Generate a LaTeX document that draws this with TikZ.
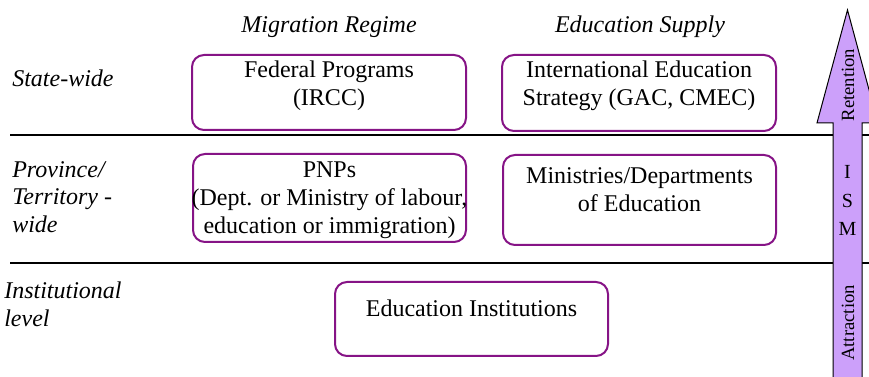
\documentclass[tikz,border=0pt]{standalone}
\usepackage{fontspec}
\setmainfont{Liberation Serif}
\newfontfamily\libserif{Liberation Serif}
\definecolor{boxpurple}{RGB}{134,20,134}
\definecolor{arrowfill}{RGB}{204,160,250}
\begin{document}
\begin{tikzpicture}[x=0.75pt,y=-0.75pt,
  box/.style={draw=boxpurple, line width=1.5pt, rounded corners=9pt,
    inner sep=0pt, outer sep=0pt},
  boxtext/.style={align=center, inner sep=0pt,
    font=\libserif\fontsize{18}{21}\selectfont},
  heading/.style={inner sep=0pt, font=\libserif\itshape\fontsize{18}{21}\selectfont},
  rowlabel/.style={anchor=west, align=left, inner sep=0pt,
    font=\libserif\itshape\fontsize{18}{20.7}\selectfont},
  divider/.style={line width=1.8pt},
  arrowtext/.style={inner sep=0pt, font=\libserif\fontsize{14}{16}\selectfont},
  ismletter/.style={inner sep=0pt, font=\libserif\fontsize{15}{16}\selectfont}]
\useasboundingbox (0,0) rectangle (869,377);

% level dividers
\coordinate (d1l) at (10,135);
\coordinate (d1r) at (869,135);
\coordinate (d2l) at (10,263);
\coordinate (d2r) at (869,263);
\draw[divider] (d1l) -- (d1r);
\draw[divider] (d2l) -- (d2r);

% column headings
\node[heading] (hmig) at (329,27) {Migration Regime};
\node[heading] (hedu) at (640,27) {Education Supply};

% row labels
\node[rowlabel] (rstate) at (12,78) {State-wide};
\node[rowlabel] (rprov) at (12,197) {Province/\\Territory -\\wide};
\node[rowlabel] (rinst) at (4,304) {Institutional\\level};

% state-wide boxes
\node[box, minimum width=205.5pt, minimum height=56.25pt] (fed) at (329,92.5) {};
\node[boxtext] (fedt) at (329,85.5) {Federal Programs\\(IRCC)};
\node[box, minimum width=205.5pt, minimum height=57pt] (ies) at (639,93) {};
\node[boxtext] (iest) at (639,85.5) {International Education\\Strategy (GAC, CMEC)};

% province/territory boxes
\node[box, minimum width=204.75pt, minimum height=66pt] (pnp) at (329.5,198) {};
\node[boxtext] (pnpt) at (329.5,200) {PNPs\\(Dept. or Ministry of labour,\\education or immigration)};
\node[box, minimum width=204.75pt, minimum height=67.5pt] (min) at (639.5,200) {};
\node[boxtext] (mint) at (639.5,189.5) {Ministries/Departments\\of Education};

% institutional box
\node[box, minimum width=204.75pt, minimum height=55.5pt] (inst) at (471.5,319) {};
\node[boxtext] (instt) at (471.5,308) {Education Institutions};

% ISM arrow
\draw[fill=arrowfill, line width=0.75pt]
  (833,400) -- (833,123) -- (817,123) -- (847.5,10) -- (878,123)
  -- (862,123) -- (862,400) -- cycle;
\node[arrowtext, rotate=90] (ret) at (848,85) {Retention};
\node[ismletter] (li) at (847.5,172) {I};
\node[ismletter] (ls) at (847.5,201) {S};
\node[ismletter] (lm) at (847.5,229) {M};
\node[arrowtext, rotate=90] (att) at (848,323) {Attraction};
\end{tikzpicture}
\end{document}
